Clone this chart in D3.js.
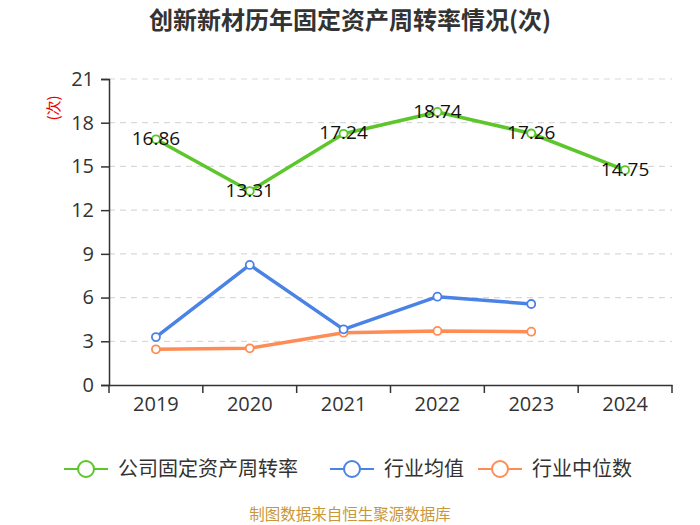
<!DOCTYPE html>
<html>
<head>
<meta charset="utf-8">
<script src="https://cdn.jsdelivr.net/npm/d3@7"></script>
<style>
  body { margin: 0; background: #fff; }
  text { font-family: "Noto Sans CJK SC", "Open Sans", sans-serif; }
</style>
</head>
<body>
<div id="chart"></div>
<script>
// chart data
const years = ["2019", "2020", "2021", "2022", "2023", "2024"];
const companyValues = [16.86, 13.31, 17.24, 18.74, 17.26, 14.75];
const industryAvg = [3.29, 8.24, 3.82, 6.06, 5.56, null];
const industryMedian = [2.45, 2.52, 3.59, 3.71, 3.66, null];
const yTicks = [0, 3, 6, 9, 12, 15, 18, 21];

const seriesList = [
  { name: "公司固定资产周转率", values: companyValues, color: "#5cc62a", labels: true },
  { name: "行业均值", values: industryAvg, color: "#4b82e6", labels: false },
  { name: "行业中位数", values: industryMedian, color: "#ff8c55", labels: false }
];

const W = 700, H = 525;
const margin = { top: 79, right: 28, bottom: 140, left: 109 };
const width = W - margin.left - margin.right;
const height = H - margin.top - margin.bottom;

const svg = d3.select("#chart")
  .append("svg")
  .attr("width", W)
  .attr("height", H);

// title
svg.append("text")
  .attr("x", W / 2)
  .attr("y", 29)
  .attr("text-anchor", "middle")
  .attr("font-size", 24)
  .attr("font-weight", "bold")
  .attr("fill", "#333")
  .text("创新新材历年固定资产周转率情况(次)");

const g = svg.append("g")
  .attr("transform", "translate(" + margin.left + "," + margin.top + ")");

// scales
const xScale = d3.scaleBand().domain(years).range([0, width]);
const yScale = d3.scaleLinear().domain([0, 21]).range([height, 0]);
const xCenter = d => xScale(d) + xScale.bandwidth() / 2;

// gridlines
g.selectAll(".grid")
  .data(yTicks.filter(t => t > 0))
  .enter()
  .append("line")
  .attr("x1", 0)
  .attr("x2", width)
  .attr("y1", d => yScale(d))
  .attr("y2", d => yScale(d))
  .attr("stroke", "#d9d9d9")
  .attr("stroke-dasharray", "6,5")
  .attr("stroke-width", 1.2);

// y axis
const yAxis = g.append("g")
  .call(d3.axisLeft(yScale).tickValues(yTicks).tickSize(8).tickPadding(7));
yAxis.select(".domain").attr("stroke", "#333").attr("stroke-width", 1.5);
yAxis.selectAll(".tick line").attr("stroke", "#333").attr("stroke-width", 1.5);
yAxis.selectAll(".tick text")
  .attr("font-size", 20)
  .attr("fill", "#333")
  .style("font-family", "'Open Sans', sans-serif");

// x axis
const xAxis = g.append("g")
  .attr("transform", "translate(0," + height + ")")
  .call(d3.axisBottom(xScale).tickSize(0).tickPadding(12));
xAxis.select(".domain").attr("stroke", "#333").attr("stroke-width", 1.5);
xAxis.selectAll(".tick text")
  .attr("font-size", 20)
  .attr("fill", "#333")
  .style("font-family", "'Open Sans', sans-serif");

// x axis ticks at band boundaries
const boundaries = years.map(d => xScale(d)).concat([width]);
xAxis.selectAll(".band-tick")
  .data(boundaries)
  .enter()
  .append("line")
  .attr("x1", d => d)
  .attr("x2", d => d)
  .attr("y1", 0)
  .attr("y2", 8)
  .attr("stroke", "#333")
  .attr("stroke-width", 1.5);

// y axis unit label
svg.append("text")
  .attr("transform", "translate(55,108) rotate(-90)")
  .attr("text-anchor", "middle")
  .attr("dominant-baseline", "middle")
  .attr("font-size", 15)
  .attr("fill", "#e00")
  .text("(次)");

// lines
const line = d3.line()
  .defined(d => d.v != null)
  .x(d => xCenter(d.year))
  .y(d => yScale(d.v));

seriesList.slice().reverse().forEach(s => {
  const pts = years.map((y, i) => ({ year: y, v: s.values[i] }));
  g.append("path")
    .datum(pts)
    .attr("d", line)
    .attr("fill", "none")
    .attr("stroke", s.color)
    .attr("stroke-width", 3.5)
    .attr("stroke-linejoin", "round");

  g.selectAll(null)
    .data(pts.filter(d => d.v != null))
    .enter()
    .append("circle")
    .attr("cx", d => xCenter(d.year))
    .attr("cy", d => yScale(d.v))
    .attr("r", 4)
    .attr("fill", "#fff")
    .attr("stroke", s.color)
    .attr("stroke-width", 1.8);

  if (s.labels) {
    g.selectAll(null)
      .data(pts)
      .enter()
      .append("text")
      .attr("x", d => xCenter(d.year))
      .attr("y", d => yScale(d.v))
      .attr("dy", "0.3em")
      .attr("text-anchor", "middle")
      .attr("font-size", 19)
      .attr("fill", "#111")
      .style("font-family", "'Open Sans', sans-serif")
      .text(d => d.v.toFixed(2));
  }
});

// legend
const legendItems = [
  { x: 64, s: seriesList[0] },
  { x: 330, s: seriesList[1] },
  { x: 478, s: seriesList[2] }
];
const legend = svg.append("g");
legendItems.forEach(item => {
  const lg = legend.append("g").attr("transform", "translate(" + item.x + ",469)");
  lg.append("line")
    .attr("x1", 0).attr("x2", 44)
    .attr("y1", 0).attr("y2", 0)
    .attr("stroke", item.s.color)
    .attr("stroke-width", 2);
  lg.append("circle")
    .attr("cx", 22).attr("cy", 0).attr("r", 8)
    .attr("fill", "#fff")
    .attr("stroke", item.s.color)
    .attr("stroke-width", 2);
  lg.append("text")
    .attr("x", 54).attr("y", 0)
    .attr("dy", "0.35em")
    .attr("font-size", 20)
    .attr("fill", "#333")
    .text(item.s.name);
});

// source note
svg.append("text")
  .attr("x", W / 2)
  .attr("y", 516)
  .attr("text-anchor", "middle")
  .attr("dominant-baseline", "middle")
  .attr("font-size", 15.5)
  .attr("fill", "#c9973a")
  .text("制图数据来自恒生聚源数据库");
</script>
</body>
</html>
